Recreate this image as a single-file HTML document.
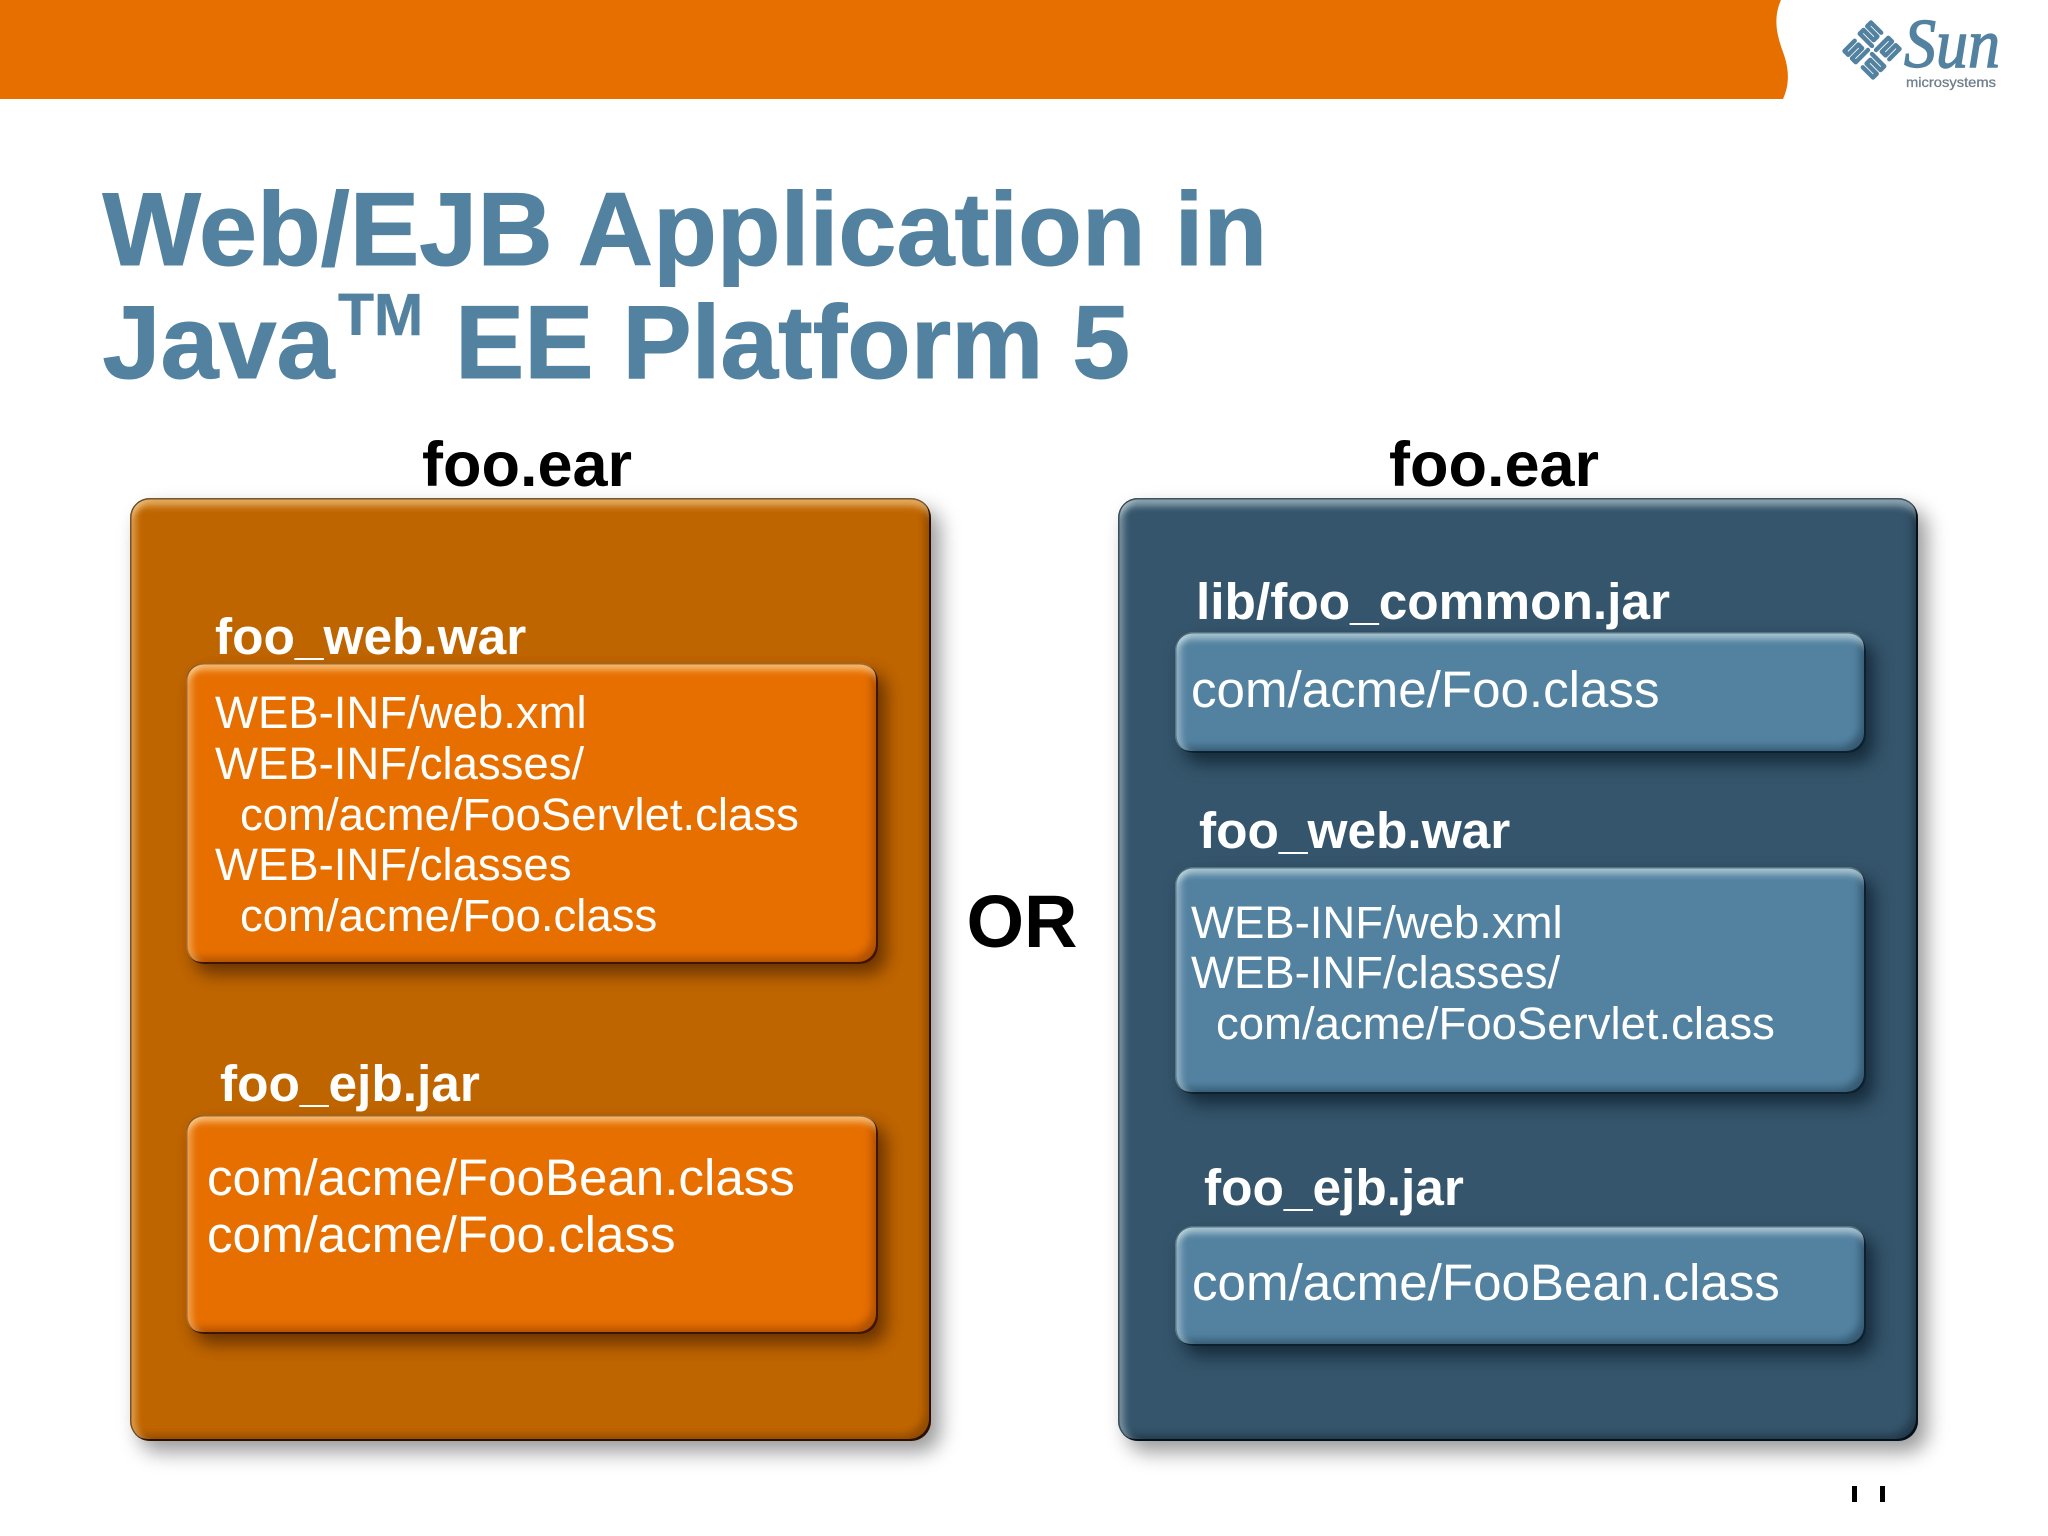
<!DOCTYPE html>
<html>
<head>
<meta charset="utf-8">
<style>
html,body{margin:0;padding:0;background:#fff;width:2048px;height:1536px;overflow:hidden}
.box{position:absolute;box-sizing:border-box}
.outer{border-radius:20px}
.inner{border-radius:18px}
.o1{background:#bf6500;box-shadow:9px 11px 20px rgba(0,0,0,.4),inset 0 1.5px 0 rgba(70,50,30,.7),inset 1.5px 0 0 rgba(70,50,30,.7),inset -2px -2px 0 #2b1000,inset 0 13px 7px -5px rgba(255,225,170,.55),inset 11px 0 7px -5px rgba(255,225,170,.45),inset -11px -11px 8px -5px rgba(60,25,0,.35)}
.o2{background:#35556c;box-shadow:9px 11px 20px rgba(0,0,0,.4),inset 0 1.5px 0 rgba(30,50,60,.7),inset 1.5px 0 0 rgba(30,50,60,.7),inset -2px -2px 0 #061018,inset 0 13px 7px -5px rgba(225,240,240,.5),inset 11px 0 7px -5px rgba(225,240,240,.4),inset -11px -11px 8px -5px rgba(0,10,20,.35)}
.i1{background:#e76f00;box-shadow:8px 10px 17px rgba(60,25,0,.65),inset 0 1.5px 0 rgba(90,50,10,.6),inset 1.5px 0 0 rgba(90,50,10,.5),inset -2px -2px 0 #401500,inset 0 12px 7px -5px rgba(255,225,170,.65),inset 11px 0 7px -5px rgba(255,225,170,.45),inset -11px -11px 8px -5px rgba(90,35,0,.4)}
.i2{background:#5382a1;box-shadow:8px 10px 17px rgba(5,20,30,.65),inset 0 1.5px 0 rgba(30,60,75,.6),inset 1.5px 0 0 rgba(30,60,75,.5),inset -2px -2px 0 #0c2030,inset 0 12px 7px -5px rgba(225,240,240,.6),inset 11px 0 7px -5px rgba(225,240,240,.45),inset -11px -11px 8px -5px rgba(10,30,45,.4)}
svg{position:absolute;left:0;top:0}
text{font-family:"Liberation Sans",Arial,sans-serif}
.title{font-size:104.3px;font-weight:bold;fill:#5382a1;stroke:#5382a1;stroke-width:1}
.ear{font-size:63px;font-weight:bold;fill:#000}
.lab{font-size:51.4px;font-weight:bold;fill:#fff}
.t{font-size:45.5px;fill:#fff}
.b{font-size:51.1px;fill:#fff}
</style>
</head>
<body>
<div class="box outer o1" style="left:130px;top:498px;width:801px;height:943px"></div>
<div class="box outer o2" style="left:1118px;top:498px;width:800px;height:943px"></div>
<div class="box inner i1" style="left:186px;top:663px;width:692px;height:301px"></div>
<div class="box inner i1" style="left:186px;top:1115px;width:692px;height:219px"></div>
<div class="box inner i2" style="left:1175px;top:632px;width:691px;height:121px"></div>
<div class="box inner i2" style="left:1175px;top:867px;width:691px;height:227px"></div>
<div class="box inner i2" style="left:1175px;top:1226px;width:691px;height:120px"></div>

<svg width="2048" height="1536" viewBox="0 0 2048 1536" xmlns="http://www.w3.org/2000/svg">
  <path d="M0 0H1781C1772 20 1778 38 1783 52C1789 68 1790 84 1783 99H0Z" fill="#e76f00"/>

  <g transform="translate(1872 50) rotate(45) scale(.96)" fill="none" stroke="#5382a1" stroke-width="4.6" stroke-linecap="round" stroke-linejoin="round">
    <path d="M3 -3V-21H8.500V-6H14V-21H19.500V-6"/>
    <g transform="rotate(90)"><path d="M3 -3V-21H8.500V-6H14V-21H19.500V-6"/></g>
    <g transform="rotate(180)"><path d="M3 -3V-21H8.500V-6H14V-21H19.500V-6"/></g>
    <g transform="rotate(270)"><path d="M3 -3V-21H8.500V-6H14V-21H19.500V-6"/></g>
  </g>
  <text x="1904" y="67" textLength="96" lengthAdjust="spacingAndGlyphs" style="font-family:'Liberation Serif',serif;font-style:italic;font-size:70px;fill:#5382a1;stroke:#5382a1;stroke-width:1.4">Sun</text>
  <text x="1906" y="87" textLength="90" lengthAdjust="spacingAndGlyphs" style="font-size:14px;fill:#6f7f8d;stroke:#6f7f8d;stroke-width:.3">microsystems</text>

  <text class="title" x="102.500" y="265">Web/EJB Application in</text>
  <text class="title" x="102.500" y="378">Java</text>
  <text class="title" x="338" y="335" style="font-size:59px;stroke-width:.5">TM</text>
  <text class="title" x="455" y="378" textLength="675" lengthAdjust="spacingAndGlyphs">EE Platform 5</text>

  <text class="ear" x="422" y="486">foo.ear</text>
  <text class="ear" x="1389" y="486">foo.ear</text>
  <text x="966.500" y="947" style="font-size:74px;font-weight:bold;fill:#000">OR</text>

  <text class="lab" x="215" y="654">foo_web.war</text>
  <text class="t" x="215" y="728">WEB-INF/web.xml</text>
  <text class="t" x="215" y="779">WEB-INF/classes/</text>
  <text class="t" x="240" y="830">com/acme/FooServlet.class</text>
  <text class="t" x="215" y="880">WEB-INF/classes</text>
  <text class="t" x="240" y="931">com/acme/Foo.class</text>

  <text class="lab" x="220" y="1101">foo_ejb.jar</text>
  <text class="b" x="207" y="1195">com/acme/FooBean.class</text>
  <text class="b" x="207" y="1252">com/acme/Foo.class</text>

  <text class="lab" x="1196" y="619">lib/foo_common.jar</text>
  <text class="b" x="1191" y="707">com/acme/Foo.class</text>

  <text class="lab" x="1199" y="848">foo_web.war</text>
  <text class="t" x="1191" y="938">WEB-INF/web.xml</text>
  <text class="t" x="1191" y="988">WEB-INF/classes/</text>
  <text class="t" x="1216" y="1039">com/acme/FooServlet.class</text>

  <text class="lab" x="1204" y="1205">foo_ejb.jar</text>
  <text class="b" x="1192" y="1300">com/acme/FooBean.class</text>

  <rect x="1852" y="1486" width="5" height="16" fill="#000"/>
  <rect x="1880" y="1486" width="5" height="16" fill="#000"/>
</svg>
</body>
</html>
